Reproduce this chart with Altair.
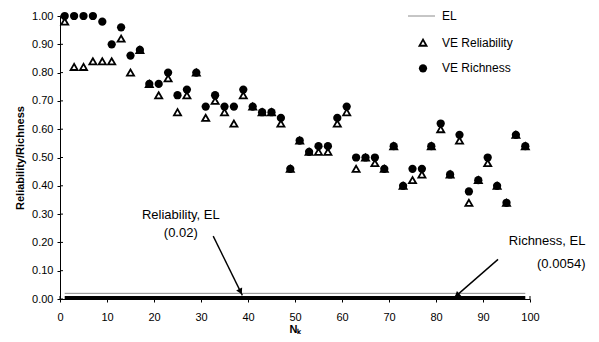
import altair as alt
import pandas as pd

# ---------------- data ----------------
n_k = [1, 3, 5, 7, 9, 11, 13, 15, 17, 19,
       21, 23, 25, 27, 29, 31, 33, 35, 37, 39,
       41, 43, 45, 47, 49, 51, 53, 55, 57, 59,
       61, 63, 65, 67, 69, 71, 73, 75, 77, 79,
       81, 83, 85, 87, 89, 91, 93, 95, 97, 99]

reliability = [0.98, 0.82, 0.82, 0.84, 0.84, 0.84, 0.92, 0.80, 0.88, 0.76,
               0.72, 0.78, 0.66, 0.72, 0.80, 0.64, 0.70, 0.66, 0.62, 0.72,
               0.68, 0.66, 0.66, 0.62, 0.46, 0.56, 0.52, 0.52, 0.52, 0.62,
               0.66, 0.46, 0.50, 0.48, 0.46, 0.54, 0.40, 0.42, 0.44, 0.54,
               0.60, 0.44, 0.56, 0.34, 0.42, 0.48, 0.40, 0.34, 0.58, 0.54]

richness = [1.00, 1.00, 1.00, 1.00, 0.98, 0.90, 0.96, 0.86, 0.88, 0.76,
            0.76, 0.80, 0.72, 0.74, 0.80, 0.68, 0.72, 0.68, 0.68, 0.74,
            0.68, 0.66, 0.66, 0.64, 0.46, 0.56, 0.52, 0.54, 0.54, 0.64,
            0.68, 0.50, 0.50, 0.50, 0.46, 0.54, 0.40, 0.46, 0.46, 0.54,
            0.62, 0.44, 0.58, 0.38, 0.42, 0.50, 0.40, 0.34, 0.58, 0.54]

legend_labels = ["EL", "VE Reliability", "VE Richness"]

el_start = [1]
el_end = [99]
rel_el = [0.02]          # Reliability EL
rich_el = [0.0054]       # Richness EL

x_ticks = [0, 10, 20, 30, 40, 50, 60, 70, 80, 90, 100]
y_ticks = [0.0, 0.1, 0.2, 0.3, 0.4, 0.5, 0.6, 0.7, 0.8, 0.9, 1.0]

# annotations (data coordinates)
center_text = ["Reliability, EL", "(0.02)"]
center_x = [25.7, 25.7]
center_y = [0.297, 0.232]
right_text = ["Richness, EL", "(0.0054)"]
right_x = [111.8, 111.8]
right_y = [0.204, 0.124]

arrow_id = ["rel", "rel", "rich", "rich"]
arrow_x = [32.6, 38.8, 93.2, 83.8]
arrow_y = [0.222, 0.013, 0.140, 0.004]
head_x = [38.4, 84.45]
head_y = [0.026, 0.013]
head_angle = [153, 229]

# ---------------- tables ----------------
rel_df = pd.DataFrame({"N": n_k, "value": reliability})
rich_df = pd.DataFrame({"N": n_k, "value": richness})
rel_el_df = pd.DataFrame({"x": el_start, "x2": el_end, "y": rel_el})
rich_el_df = pd.DataFrame({"x": el_start, "x2": el_end, "y": rich_el})
ctext_df = pd.DataFrame({"x": center_x, "y": center_y, "t": center_text})
rtext_df = pd.DataFrame({"x": right_x, "y": right_y, "t": right_text})
arrow_df = pd.DataFrame({"x": arrow_x, "y": arrow_y, "id": arrow_id,
                         "o": [0, 1, 0, 1]})
head_df = pd.DataFrame({"x": head_x, "y": head_y, "a": head_angle})
xt_df = pd.DataFrame({"x": x_ticks})
yt_df = pd.DataFrame({"y": y_ticks})

FONT = "Liberation Sans"
W, H = 470, 283
xscale = alt.Scale(domain=[0, 100], nice=False, zero=False)
yscale = alt.Scale(domain=[0, 1], nice=False)
xaxis = alt.Axis(values=x_ticks, format="d", tickSize=3, labelPadding=9,
                 titlePadding=1, labelFlush=False)
yaxis = alt.Axis(values=y_ticks, format=".2f", tickSize=3, labelPadding=4,
                 titlePadding=6)
XT = "N\u2096"
YT = "Reliability/Richness"


def X(field):
    return alt.X(field, type="quantitative", scale=xscale, axis=xaxis, title=XT)


def Y(field):
    return alt.Y(field, type="quantitative", scale=yscale, axis=yaxis, title=YT)


# inner halves of the crossing tick marks
xt_in = alt.Chart(xt_df).mark_rule(color="black", strokeWidth=1).encode(
    x=X("x"), y=alt.value(H), y2=alt.value(H - 3))
yt_in = alt.Chart(yt_df).mark_rule(color="black", strokeWidth=1).encode(
    y=Y("y"), x=alt.value(0), x2=alt.value(3))

el_gray = alt.Chart(rel_el_df).mark_rule(color="#8c8c8c", strokeWidth=1).encode(
    x=X("x"), x2="x2", y=Y("y"))
el_black = alt.Chart(rich_el_df).mark_rule(color="black", strokeWidth=3).encode(
    x=X("x"), x2="x2", y=Y("y"))

tri = alt.Chart(rel_df).mark_point(shape="triangle-up", size=50, filled=False,
                                   fill="white", fillOpacity=1, stroke="black",
                                   strokeWidth=1.8, opacity=1).encode(
    x=X("N"), y=Y("value"))
dots = alt.Chart(rich_df).mark_point(shape="circle", size=68, filled=True,
                                     color="black", opacity=1).encode(
    x=X("N"), y=Y("value"))

arrows = alt.Chart(arrow_df).mark_line(color="black", strokeWidth=1.4).encode(
    x=X("x"), y=Y("y"), detail="id:N", order="o:Q")
heads = alt.Chart(head_df).mark_point(shape="triangle-up", filled=True,
                                      color="black", size=45, opacity=1).encode(
    x=X("x"), y=Y("y"), angle=alt.Angle("a:Q", scale=None))

ctext = alt.Chart(ctext_df).mark_text(font=FONT, fontSize=13, align="center",
                                      baseline="middle", color="black").encode(
    x=X("x"), y=Y("y"), text="t:N")
rtext = alt.Chart(rtext_df).mark_text(font=FONT, fontSize=13, align="right",
                                      baseline="middle", color="black").encode(
    x=X("x"), y=Y("y"), text="t:N")


# ---------------- legend (top right, pixel positions in plot area) ----------
def leg_text(i, py):
    return alt.Chart(pd.DataFrame({"t": [legend_labels[i]]})).mark_text(
        font=FONT, fontSize=12, align="left", baseline="middle",
        color="black").encode(x=alt.value(382), y=alt.value(py), text="t:N")


leg_line = alt.Chart(pd.DataFrame({"t": [legend_labels[0]]})).mark_rule(
    color="#8c8c8c", strokeWidth=1).encode(
    x=alt.value(348), x2=alt.value(375), y=alt.value(0))
leg_tri = alt.Chart(pd.DataFrame({"t": [legend_labels[1]]})).mark_point(
    shape="triangle-up", size=50, filled=False, fill="white", fillOpacity=1,
    stroke="black", strokeWidth=1.8, opacity=1).encode(
    x=alt.value(363), y=alt.value(26.7))
leg_dot = alt.Chart(pd.DataFrame({"t": [legend_labels[2]]})).mark_point(
    shape="circle", size=68, filled=True, color="black", opacity=1).encode(
    x=alt.value(363), y=alt.value(52.3))

chart = alt.layer(
    xt_in, yt_in, el_gray, el_black, tri, dots, arrows, heads, ctext, rtext,
    leg_line, leg_tri, leg_dot, leg_text(0, 0), leg_text(1, 26.7),
    leg_text(2, 52.3),
).properties(
    width=W, height=H,
    autosize=alt.AutoSizeParams(type="none"),
    padding={"left": 52, "top": 8, "right": 61, "bottom": 35},
).configure_view(stroke=None).configure_axis(
    grid=False, domainColor="black", tickColor="black", labelColor="black",
    titleColor="black", labelFont=FONT, titleFont=FONT, labelFontSize=11,
    titleFontSize=11, titleFontWeight="bold", domainWidth=1, tickWidth=1,
)

chart.save("out.html", embed_options={"renderer": "svg", "actions": False})
